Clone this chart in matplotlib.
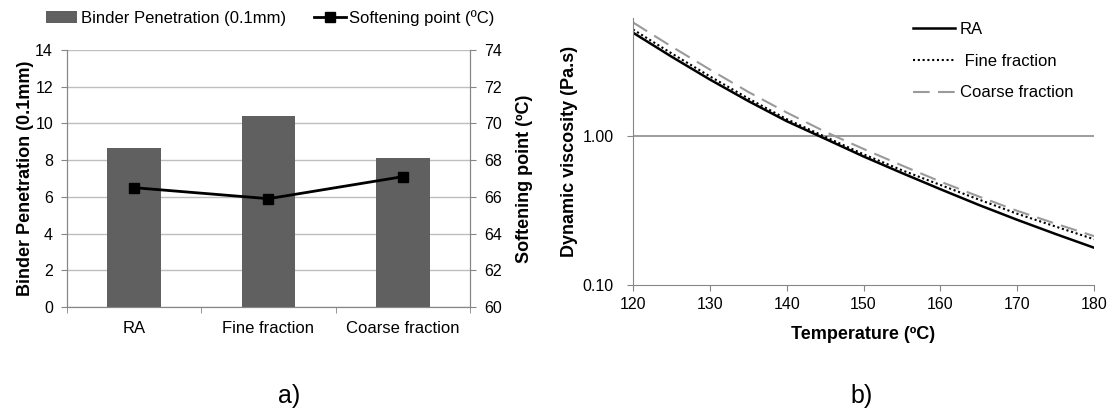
import numpy as np
import matplotlib.pyplot as plt
from matplotlib.ticker import FixedLocator, FuncFormatter, NullLocator

plt.rcParams['font.family'] = ['Liberation Sans', 'DejaVu Sans']
plt.rcParams['font.size'] = 11.5

# a) penetration / softening point
cats = ['RA', 'Fine fraction', 'Coarse fraction']
penetration = [8.65, 10.4, 8.1]
softening = [66.5, 65.9, 67.1]

# b) viscosity curves
temp = [120, 125, 130, 135, 140, 145, 150, 155, 160, 165, 170, 175, 180]
visc_ra = [4.95, 3.42, 2.4, 1.72, 1.26, 0.96, 0.73, 0.565, 0.44, 0.345, 0.274, 0.22, 0.178]
visc_fine = [5.2, 3.6, 2.52, 1.79, 1.3, 0.99, 0.755, 0.59, 0.47, 0.375, 0.301, 0.247, 0.203]
visc_coarse = [5.8, 4.0, 2.8, 1.98, 1.44, 1.07, 0.82, 0.635, 0.495, 0.393, 0.315, 0.258, 0.213]

spine_c = '#868686'
grid_c = '#BEBEBE'

fig = plt.figure(figsize=(11.15, 4.19), dpi=100)

# ---- left chart
ax1 = fig.add_axes([0.0601, 0.2673, 0.3614, 0.6134])
x = np.arange(len(cats))
bars = ax1.bar(x, penetration, width=0.4, color='#606060', zorder=3)
ax1.set_xlim(-0.5, 2.5)
ax1.set_ylim(0, 14)
ax1.set_yticks(np.arange(0, 15, 2))
ax1.yaxis.grid(True, color=grid_c, lw=1, zorder=0)
ax1.set_xticks(x)
ax1.set_xticklabels(cats, fontsize=12)
ax1.xaxis.set_minor_locator(FixedLocator([-0.5, 0.5, 1.5, 2.5]))
ax1.tick_params(axis='x', which='major', length=0, pad=10)
ax1.tick_params(axis='x', which='minor', length=4, color=spine_c)
ax1.tick_params(axis='y', length=4, color=spine_c, pad=6)
ax1.spines['top'].set_visible(False)
for s in ['left', 'right', 'bottom']:
    ax1.spines[s].set_color(spine_c)
ax1.set_ylabel('Binder Penetration (0.1mm)', fontweight='bold', fontsize=13, labelpad=1)

ax2 = ax1.twinx()
line, = ax2.plot(x, softening, color='black', lw=2, marker='s', markersize=7.5, zorder=4)
ax2.set_ylim(60, 74)
ax2.set_yticks(np.arange(60, 75, 2))
ax2.tick_params(axis='y', length=4, color=spine_c, pad=6)
ax2.spines['top'].set_visible(False)
for s in ['left', 'right', 'bottom']:
    ax2.spines[s].set_color(spine_c)
ax2.set_ylabel('Softening point (ºC)', fontweight='bold', fontsize=13, labelpad=10)

ax1.legend([bars, line], ['Binder Penetration (0.1mm)', 'Softening point (ºC)'],
           loc='center', bbox_to_anchor=(0.504, 1.125), ncol=2, frameon=False,
           handlelength=1.9, handletextpad=0.2, columnspacing=1.7,
           borderaxespad=0, borderpad=0, fontsize=12)

# ---- right chart
ax3 = fig.add_axes([0.5677, 0.3198, 0.4135, 0.637])
ax3.plot(temp, visc_ra, color='black', lw=1.8, label='RA')
ax3.plot(temp, visc_fine, color='black', lw=1.5, ls=(0, (1, 1.3)), label=' Fine fraction')
ax3.plot(temp, visc_coarse, color='#9A9A9A', lw=1.5, ls=(0, (8, 4)), label='Coarse fraction')
ax3.set_yscale('log')
ax3.set_xlim(120, 180)
ax3.set_ylim(0.1, 6.2)
ax3.yaxis.set_major_locator(FixedLocator([0.1, 1.0]))
ax3.yaxis.set_minor_locator(NullLocator())
ax3.yaxis.set_major_formatter(FuncFormatter(lambda v, p: '%.2f' % v))
ax3.set_xticks(np.arange(120, 181, 10))
ax3.axhline(1.0, color='#8C8C8C', lw=1.2, zorder=0)
ax3.tick_params(length=4, color=spine_c)
ax3.tick_params(axis='y', pad=10)
ax3.tick_params(axis='x', pad=4.5)
ax3.spines['top'].set_visible(False)
ax3.spines['right'].set_visible(False)
for s in ['left', 'bottom']:
    ax3.spines[s].set_color(spine_c)
ax3.set_ylabel('Dynamic viscosity (Pa.s)', fontweight='bold', fontsize=13, labelpad=3)
ax3.set_xlabel('Temperature (ºC)', fontweight='bold', fontsize=13, labelpad=10)
ax3.legend(loc='upper left', bbox_to_anchor=(0.607, 0.985), frameon=False,
           handlelength=2.5, labelspacing=1.0, handletextpad=0.3,
           borderaxespad=0, borderpad=0, fontsize=12)

fig.text(0.259, 0.055, 'a)', ha='center', va='center', fontsize=18)
fig.text(0.773, 0.055, 'b)', ha='center', va='center', fontsize=18)

fig.savefig('out.png', dpi=100)
